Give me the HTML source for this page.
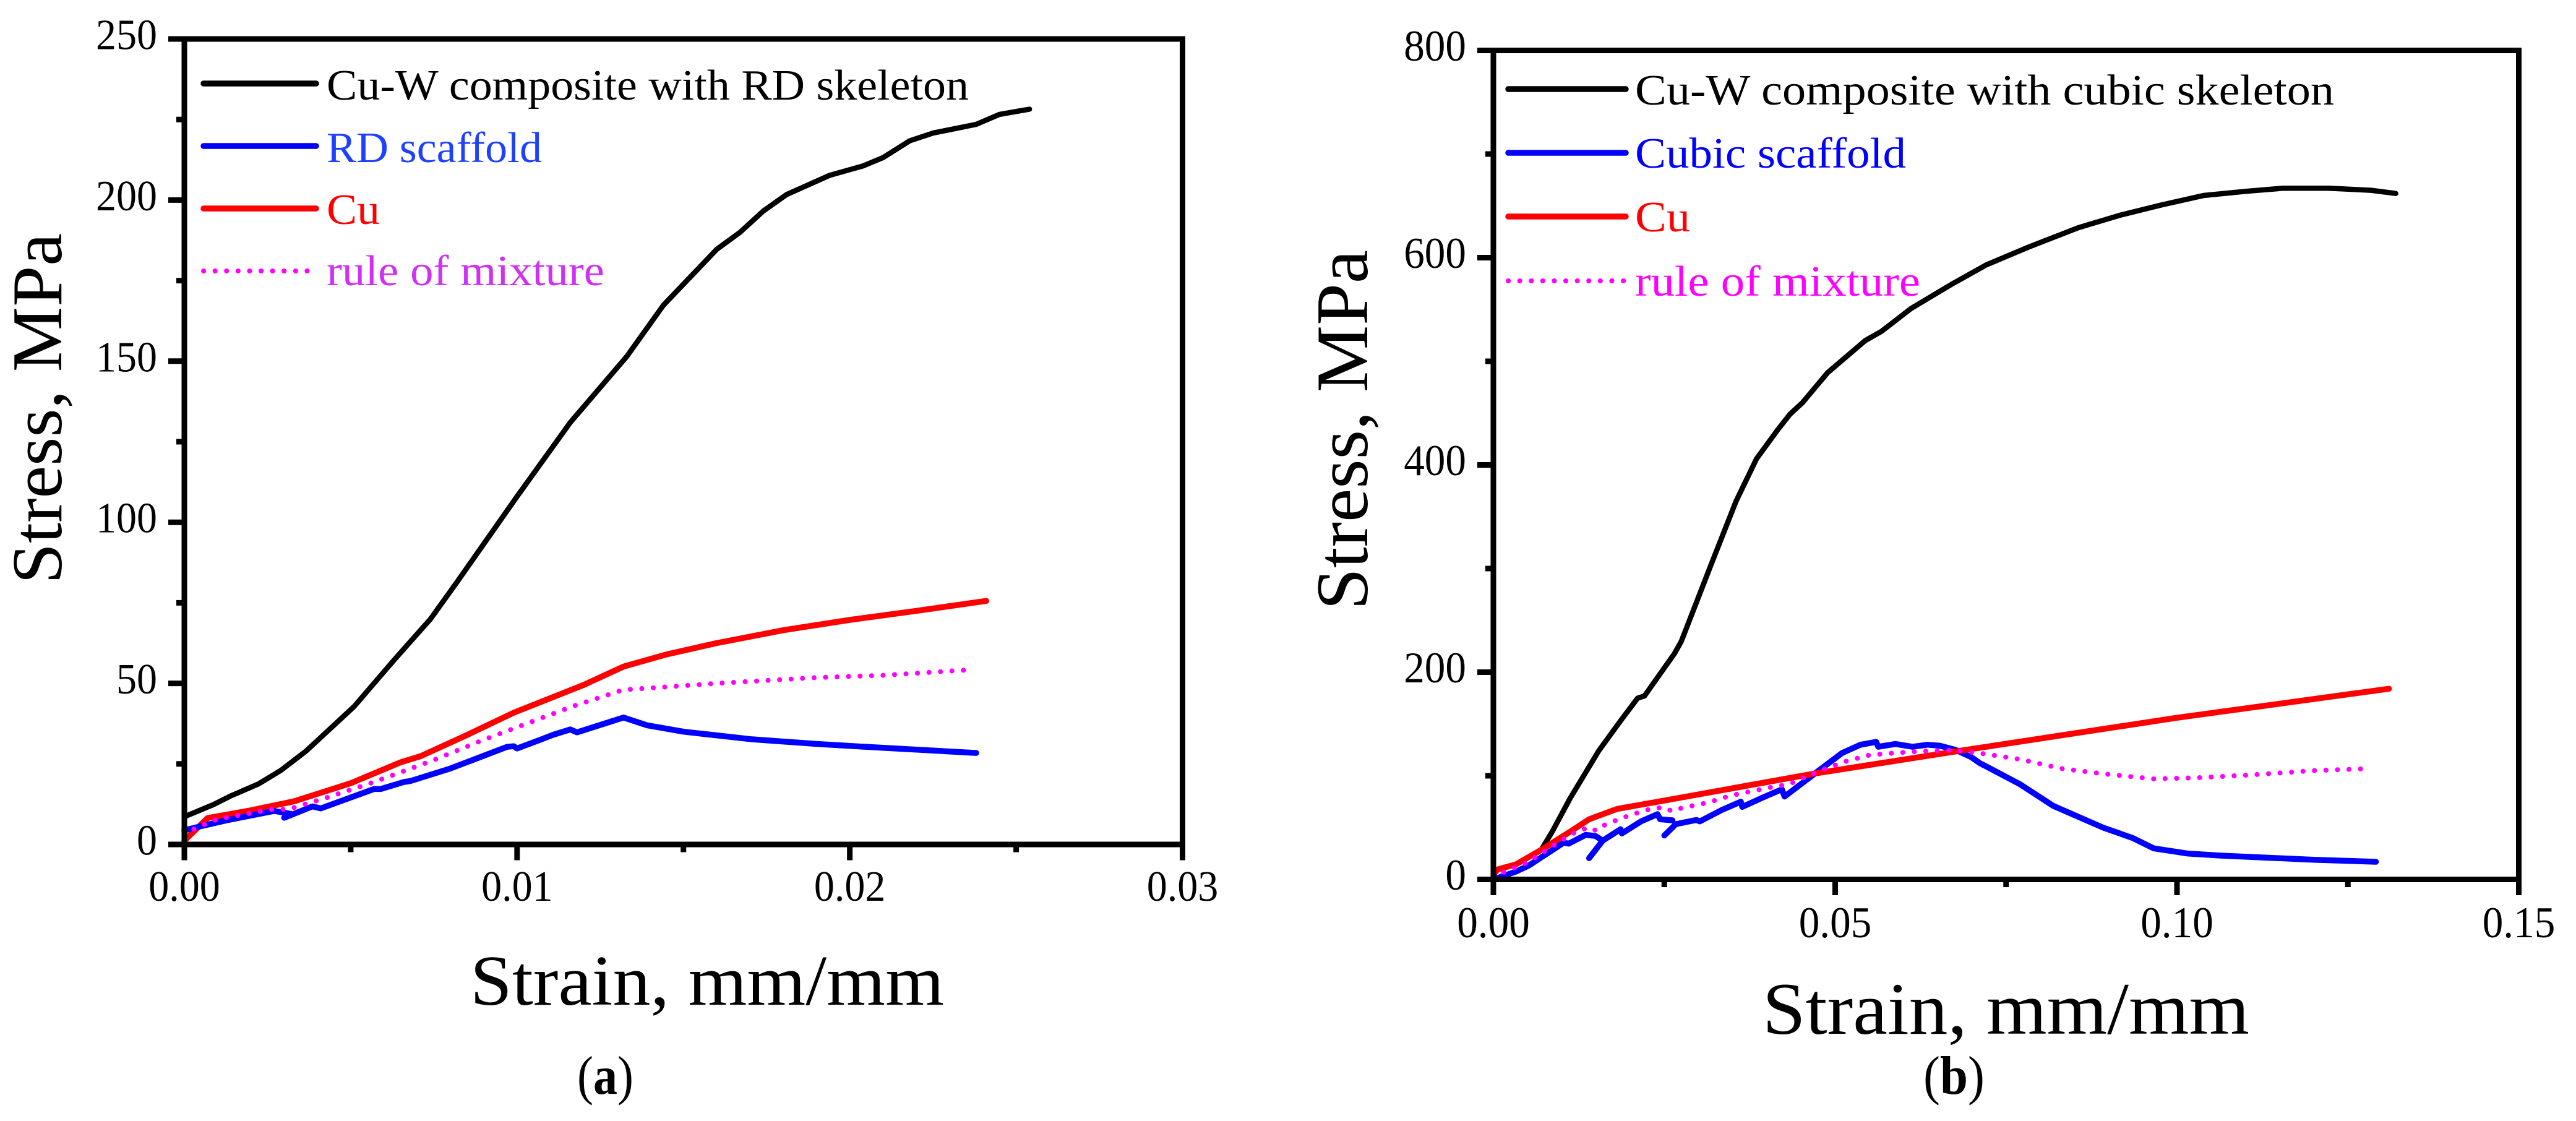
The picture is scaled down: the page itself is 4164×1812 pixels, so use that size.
<!DOCTYPE html>
<html lang="en">
<head>
<meta charset="utf-8">
<title>Stress-strain curves</title>
<style>
html,body{margin:0;padding:0;background:#fff;}
svg{display:block;}
text{font-family:"Liberation Serif",serif;}
.legend{font-size:70px;}
.cap{font-size:88px;}
</style>
</head>
<body>
<svg id="figure" xmlns="http://www.w3.org/2000/svg" width="4164" height="1812" viewBox="0 0 4164 1812">
  <rect width="4164" height="1812" fill="#fff"/>
  <g id="panelA"></g>
  <g id="panelB"></g>

  <g>
    <line x1="329" y1="135" x2="511" y2="135" stroke="#000" stroke-width="9.5" stroke-linecap="round"/>
    <text class="legend" x="528" y="161" textLength="1038" lengthAdjust="spacingAndGlyphs" fill="#000">Cu-W composite with RD skeleton</text>
    <line x1="329" y1="236" x2="511" y2="236" stroke="#00f" stroke-width="9.5" stroke-linecap="round"/>
    <text class="legend" x="528" y="262" textLength="348" lengthAdjust="spacingAndGlyphs" fill="#1e40ff">RD scaffold</text>
    <line x1="329" y1="337" x2="511" y2="337" stroke="#f00" stroke-width="9.5" stroke-linecap="round"/>
    <text class="legend" x="528" y="362" textLength="86" lengthAdjust="spacingAndGlyphs" fill="#f00">Cu</text>
    <line x1="329" y1="438" x2="511" y2="438" stroke="#f0f" stroke-width="8" stroke-linecap="round" stroke-dasharray="0.1 18.5"/>
    <text class="legend" x="528" y="461" textLength="449" lengthAdjust="spacingAndGlyphs" fill="#d030f5">rule of mixture</text>
  </g>
  <text x="760" y="1624" font-size="115" textLength="766" lengthAdjust="spacingAndGlyphs">Strain, mm/mm</text>
  <text font-size="115" transform="translate(99 944) rotate(-90)" textLength="567" lengthAdjust="spacingAndGlyphs">Stress, MPa</text>
  <text class="cap" x="933" y="1768" textLength="91" lengthAdjust="spacingAndGlyphs">(<tspan font-weight="bold">a</tspan>)</text>

  <g>
    <line x1="2438" y1="144" x2="2628" y2="144" stroke="#000" stroke-width="9.5" stroke-linecap="round"/>
    <text class="legend" x="2643" y="169" textLength="1130" lengthAdjust="spacingAndGlyphs" fill="#000">Cu-W composite with cubic skeleton</text>
    <line x1="2438" y1="247" x2="2628" y2="247" stroke="#00f" stroke-width="9.5" stroke-linecap="round"/>
    <text class="legend" x="2643" y="271" textLength="438" lengthAdjust="spacingAndGlyphs" fill="#00f">Cubic scaffold</text>
    <line x1="2438" y1="350" x2="2628" y2="350" stroke="#f00" stroke-width="9.5" stroke-linecap="round"/>
    <text class="legend" x="2643" y="374" textLength="89" lengthAdjust="spacingAndGlyphs" fill="#f00">Cu</text>
    <line x1="2438" y1="454" x2="2628" y2="454" stroke="#f0f" stroke-width="8" stroke-linecap="round" stroke-dasharray="0.1 18.5"/>
    <text class="legend" x="2643" y="478" textLength="461" lengthAdjust="spacingAndGlyphs" fill="#f0f">rule of mixture</text>
  </g>
  <text x="2849" y="1671" font-size="120" textLength="787" lengthAdjust="spacingAndGlyphs">Strain, mm/mm</text>
  <text font-size="120" transform="translate(2210 986) rotate(-90)" textLength="582" lengthAdjust="spacingAndGlyphs">Stress, MPa</text>
  <text class="cap" x="3109" y="1768" textLength="99" lengthAdjust="spacingAndGlyphs">(<tspan font-weight="bold">b</tspan>)</text>
</svg>
<script>
// Panel (a) axis tick labels
const aXTickValues = [0, 0.01, 0.02, 0.03];
const aXTickLabels = ["0.00", "0.01", "0.02", "0.03"];
const aXMinorTicks = [0.005, 0.015, 0.025];
const aYTickValues = [0, 50, 100, 150, 200, 250];
const aYTickLabels = ["0", "50", "100", "150", "200", "250"];
const aYMinorTicks = [25, 75, 125, 175, 225];

// Panel (a) series
const aCompositeStrain = [0, .00088, .00138, .00223, .0029, .00366, .0051, .0063, .0074, .0082, .01, .0116, .0133, .0144, .016, .0167, .0174, .0181, .0194, .0204, .021, .0218, .0225, .0238, .0245, .0254];
const aCompositeStress = [8.6, 12.4, 15, 18.8, 23, 29, 42.8, 57.2, 70, 81.5, 108, 131, 151.5, 167.4, 184.7, 190, 196.6, 201.7, 207.7, 210.6, 213.2, 218.4, 220.8, 223.5, 226.6, 228.2];
const aCuStrain = [0, .0007, .002, .0033, .005, .0065, .0071, .0085, .0099, .012, .0132, .0145, .016, .018, .02, .022, .0241];
const aCuStress = [1.2, 8.2, 10.6, 13.4, 19, 25.5, 27.4, 34, 40.9, 49.5, 55.2, 59, 62.5, 66.5, 69.7, 72.5, 75.6];
const aScaffoldEarlyStrain = [0, .00047, .00128, .0027, .0032];
const aScaffoldEarlyStress = [4.4, 5.6, 7.5, 10.4, 9.5];
const aScaffoldStrain = [.003, .00385, .0041, .0057, .0059, .0066, .0068, .008, .0097, .0099, .01, .0107, .0111, .0116, .0118, .0132, .0139, .015, .017, .019, .021, .0238];
const aScaffoldStress = [8.3, 11.8, 11.2, 17.2, 17.2, 19.4, 19.7, 23.6, 30.3, 30.5, 29.8, 32.5, 34.1, 35.7, 34.8, 39.4, 37, 35, 32.7, 31.2, 30, 28.4];
const aMixtureStrain = [0, .0003, .001, .00275, .0031, .0035, .0043, .0057, .0074, .009, .0117, .0132, .0142, .016, .019, .021, .0236];
const aMixtureStress = [2.8, 4.9, 7.9, 11.1, 10.8, 12.1, 14.6, 19.4, 25.8, 32.5, 43, 48, 48.7, 50, 51.8, 52.5, 54.2];

// Panel (b) axis tick labels
const bXTickValues = [0, 0.05, 0.10, 0.15];
const bXTickLabels = ["0.00", "0.05", "0.10", "0.15"];
const bXMinorTicks = [0.025, 0.075, 0.125];
const bYTickValues = [0, 200, 400, 600, 800];
const bYTickLabels = ["0", "200", "400", "600", "800"];
const bYMinorTicks = [100, 300, 500, 700];

// Panel (b) series
const bCompositeStrain = [.007, .0086, .0112, .0154, .0186, .0211, .0221, .0237, .0265, .0275, .0318, .0355, .0385, .0416, .0434, .0452, .0489, .0544, .0568, .0611, .0672, .0721, .0782, .0856, .0917, .0978, .1039, .11, .1155, .1222, .1284, .132];
const bCompositeStress = [28.5, 46, 78, 124, 153, 175, 177, 192, 218, 230, 303, 365, 406, 434, 449, 460, 489, 520, 529, 551, 575, 593, 610, 629, 641, 651, 660, 664, 667, 667, 665, 662];
const bCuStrain = [0, .0006, .0033, .007, .0112, .014, .0181, .0283, .0468, .0681, .1, .131];
const bCuStress = [4.6, 9.6, 14.5, 28.5, 46, 58, 68, 80, 102, 124, 156, 184];
const bScaffold1Strain = [0, .0033, .0052, .0103, .011, .0135, .0149, .016];
const bScaffold1Stress = [0, 7.6, 13.5, 35.5, 34.5, 43, 42, 37.5];
const bScaffold2Strain = [.014, .016, .0186, .0188, .0216, .024, .0244, .0262];
const bScaffold2Stress = [20.5, 37.5, 48.4, 44.4, 56, 63, 58, 57];
const bScaffold3Strain = [.025, .0267, .0297, .0302, .0334, .0362, .0364, .0394, .0422, .0426, .0468, .051, .0537, .056, .0563, .0588, .0613, .0635, .0653, .0676, .0699, .0712, .0721, .077, .0819, .0892, .0935, .0966, .1015, .1064, .12, .1291];
const bScaffold3Stress = [42.4, 53.4, 57.4, 56, 67, 75, 70, 79, 87, 80, 101, 122, 130, 132.7, 128, 130.7, 128, 130, 129, 125, 118, 112, 109, 92, 71, 50, 40, 30, 25, 23, 19, 17];
const bMixtureStrain = [0, .0017, .005, .008, .0111, .0127, .0144, .015, .0156, .0167, .02, .0235, .0253, .026, .0278, .0313, .0348, .0399, .0433, .045, .0482, .0516, .055, .0586, .0621, .0674, .071, .077, .0831, .0892, .0966, .1027, .1112, .12, .1284];
const bMixtureStress = [2, 7.6, 16.5, 29.5, 42.4, 48, 50, 47, 50, 54, 62, 69, 69, 66, 69.3, 74, 81, 88, 92, 97, 106, 114, 120, 122, 123.5, 124.7, 122, 116, 107, 102, 97, 98, 101, 105, 107];

const NS = 'http://www.w3.org/2000/svg';

function axisFn(domainMin, domainMax, pxMin, pxMax) {
  return v => pxMin + (v - domainMin) / (domainMax - domainMin) * (pxMax - pxMin);
}

function addLine(parent, x1, y1, x2, y2, name) {
  const el = document.createElementNS(NS, 'line');
  el.setAttribute('x1', x1);
  el.setAttribute('y1', y1);
  el.setAttribute('x2', x2);
  el.setAttribute('y2', y2);
  el.setAttribute('stroke', '#000');
  el.setAttribute('stroke-width', 9);
  
  
  parent.appendChild(el);
}

function addLabel(parent, x, y, anchor, str, size, digitW, name) {
  const el = document.createElementNS(NS, 'text');
  el.setAttribute('x', x);
  el.setAttribute('y', y);
  el.setAttribute('text-anchor', anchor);
  el.setAttribute('font-size', size);
  const w = str.replace('.', '').length * digitW + (str.includes('.') ? digitW / 2 : 0);
  el.setAttribute('textLength', w);
  el.setAttribute('lengthAdjust', 'spacingAndGlyphs');
  
  
  el.textContent = str;
  parent.appendChild(el);
}

function addSeries(parent, xs, ys, X, Y, color, width, dotted, name) {
  const el = document.createElementNS(NS, 'polyline');
  el.setAttribute('points', xs.map((v, i) => X(v).toFixed(1) + ',' + Y(ys[i]).toFixed(1)).join(' '));
  el.setAttribute('fill', 'none');
  el.setAttribute('stroke', color);
  el.setAttribute('stroke-width', width);
  el.setAttribute('stroke-linejoin', 'round');
  el.setAttribute('stroke-linecap', 'round');
  if (dotted) el.setAttribute('stroke-dasharray', '0.1 18.5');
  
  
  parent.appendChild(el);
}

function drawAxes(g, X, Y, b, xVals, xLabels, xMinor, yVals, yLabels, yMinor, o) {
  xMinor.forEach(v => addLine(g, X(v), b.bottom, X(v), b.bottom + 12.5, 'x-minor-tick'));
  xVals.forEach((v, i) => {
    addLine(g, X(v), b.bottom, X(v), b.bottom + 25.5, 'x-major-tick');
    addLabel(g, X(v), o.xBase, 'middle', xLabels[i], o.size, o.digitW, 'x-tick-label');
  });
  yMinor.forEach(v => addLine(g, b.left, Y(v), b.left - 13, Y(v), 'y-minor-tick'));
  yVals.forEach((v, i) => {
    addLine(g, b.left, Y(v), b.left - 26, Y(v), 'y-major-tick');
    addLabel(g, b.left - 44, Y(v) + 16.5, 'end', yLabels[i], o.size, o.digitW, 'y-tick-label');
  });
  const frame = document.createElementNS(NS, 'rect');
  frame.setAttribute('x', b.left);
  frame.setAttribute('y', b.top);
  frame.setAttribute('width', b.right - b.left);
  frame.setAttribute('height', b.bottom - b.top);
  frame.setAttribute('fill', 'none');
  frame.setAttribute('stroke', '#000');
  frame.setAttribute('stroke-width', 9);
  
  
  g.appendChild(frame);
}

// Panel (a)
const boxA = {left: 298, right: 1911.5, top: 63, bottom: 1365};
const xA = axisFn(0, 0.03, boxA.left, boxA.right);
const yA = axisFn(0, 250, boxA.bottom, boxA.top);
const gA = document.getElementById('panelA');
addSeries(gA, aCompositeStrain, aCompositeStress, xA, yA, '#000', 8.5, false, 'series-composite-rd');
addSeries(gA, aCuStrain, aCuStress, xA, yA, '#f00', 9.5, false, 'series-cu');
addSeries(gA, aScaffoldEarlyStrain, aScaffoldEarlyStress, xA, yA, '#00f', 9.5, false, 'series-rd-scaffold-early');
addSeries(gA, aScaffoldStrain, aScaffoldStress, xA, yA, '#00f', 9.5, false, 'series-rd-scaffold');
addSeries(gA, aMixtureStrain, aMixtureStress, xA, yA, '#f0f', 8, true, 'series-rule-of-mixture');
drawAxes(gA, xA, yA, boxA, aXTickValues, aXTickLabels, aXMinorTicks, aYTickValues, aYTickLabels, aYMinorTicks, {xBase: 1456, size: 70, digitW: 33});

// Panel (b)
const boxB = {left: 2414, right: 4071.5, top: 81.5, bottom: 1421.5};
const xB = axisFn(0, 0.15, boxB.left, boxB.right);
const yB = axisFn(0, 800, boxB.bottom, boxB.top);
const gB = document.getElementById('panelB');
addSeries(gB, bCompositeStrain, bCompositeStress, xB, yB, '#000', 8.5, false, 'series-composite-cubic');
addSeries(gB, bScaffold1Strain, bScaffold1Stress, xB, yB, '#00f', 9.5, false, 'series-cubic-scaffold-1');
addSeries(gB, bScaffold2Strain, bScaffold2Stress, xB, yB, '#00f', 9.5, false, 'series-cubic-scaffold-2');
addSeries(gB, bScaffold3Strain, bScaffold3Stress, xB, yB, '#00f', 9.5, false, 'series-cubic-scaffold-3');
addSeries(gB, bCuStrain, bCuStress, xB, yB, '#f00', 9.5, false, 'series-cu-b');
addSeries(gB, bMixtureStrain, bMixtureStress, xB, yB, '#f0f', 8, true, 'series-rule-of-mixture-b');
drawAxes(gB, xB, yB, boxB, bXTickValues, bXTickLabels, bXMinorTicks, bYTickValues, bYTickLabels, bYMinorTicks, {xBase: 1515, size: 71, digitW: 33.6});
</script>
</body>
</html>
